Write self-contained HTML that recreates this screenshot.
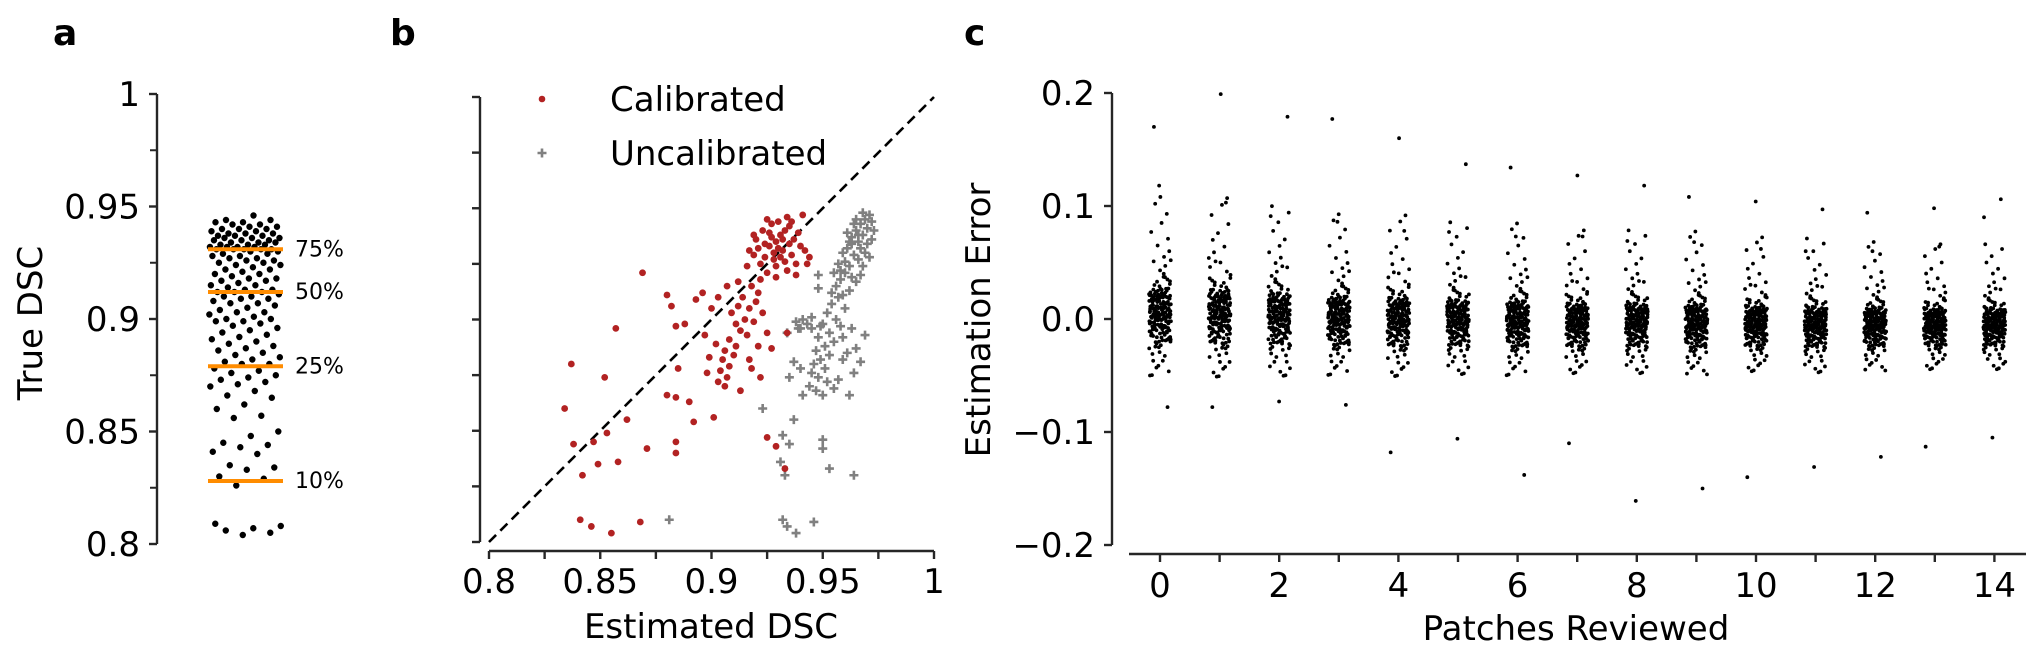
<!DOCTYPE html>
<html><head><meta charset="utf-8">
<style>
html,body{margin:0;padding:0;background:#fff;}
svg{display:block;font-family:"DejaVu Sans","Liberation Sans",sans-serif;}
</style></head>
<body>
<svg id="fig" width="2035" height="664" viewBox="0 0 2035 664" xmlns="http://www.w3.org/2000/svg">
<text x="53" y="45" font-size="36" font-weight="bold">a</text>
<text x="390" y="45" font-size="36" font-weight="bold">b</text>
<text x="964" y="45" font-size="36" font-weight="bold">c</text>
<g id="pa"></g>
<g id="pb"></g>
<g id="pc"></g>
</svg>
<script>
// ---------- Panel a data ----------
const trueDSC = [.946,.944,.944,.943,.943,.942,.942,.941,.941,.940,.940,.940,.939,.939,.938,.938,.938,.937,.937,.937,.936,.936,.936,.935,.935,.935,.934,.934,.934,.933,.933,.933,.932,.932,.932,.932,.931,.931,.931,.931,.931,.930,.930,
.929,.929,.928,.928,.927,.927,.926,.926,.925,.925,.924,.924,.923,.922,.922,.921,.920,.920,.919,.918,.918,.917,.917,.916,.915,.915,.914,.913,.913,.912,.912,.912,
.911,.910,.910,.909,.909,.908,.907,.907,.906,.905,.904,.903,.903,.902,.901,.900,.900,.899,.899,.898,.897,.896,.895,.894,.893,.892,.891,.890,.889,.888,.887,.886,.885,.884,.883,.882,.881,.880,.880,
.878,.877,.876,.875,.874,.873,.872,.871,.870,.868,.866,.865,.862,.860,.857,.856,.850,.848,.845,.844,.843,.841,.840,.835,.834,.833,.830,.829,.826,.808,.807,.806,.805,.804,.809];
const pctLabels = ["75%","50%","25%","10%"];
const pctValues = [0.931,0.912,0.879,0.828];
const aTicks = [1,0.95,0.9,0.85,0.8];
const aTickLabels = ["1","0.95","0.9","0.85","0.8"];
const aMinor = [0.975,0.925,0.875,0.825];

// ---------- Panel b data ----------
const calEst = [.929,.931,.926,.933,.935,.928,.924,.937,.939,.932,.930,.934,.927,.921,.919,.922,.936,.940,.942,.944,.938,.925,.929,.933,.920,.917,.923,.931,.927,.936,.941,.925,.919,.935,.930,.928,.934,.938,.943,.916,.924,.926,.932,.922,.929,
.918,.921,.914,.912,.917,.920,.909,.915,.911,.919,.913,.916,.908,.911,.906,.910,.905,.908,.904,.907,.903,.906,.899,.902,.897,.912,.907,.903,.900,.923,.925,.921,.917,.913,.922,.927,.934,.918,
.869,.837,.834,.857,.852,.880,.882,.893,.896,.884,.888,.885,.880,.884,.890,.892,.901,.862,.853,.847,.838,.871,.884,.884,.858,.849,.842,.898,.841,.846,.855,.868,.929,.933,.925];
const calTrue = [.935,.938,.933,.940,.942,.930,.928,.936,.939,.931,.944,.946,.943,.932,.929,.925,.929,.933,.931,.928,.925,.921,.924,.926,.936,.931,.940,.928,.937,.944,.947,.945,.938,.934,.932,.927,.922,.920,.925,.924,.934,.939,.936,.918,.919,
.915,.912,.910,.906,.905,.908,.903,.900,.898,.899,.895,.893,.891,.888,.886,.884,.882,.879,.877,.874,.872,.870,.883,.889,.893,.917,.915,.910,.905,.903,.894,.888,.882,.868,.874,.887,.894,.878,
.921,.880,.860,.896,.874,.911,.906,.909,.912,.897,.898,.878,.866,.865,.863,.854,.856,.855,.849,.845,.844,.842,.845,.840,.836,.835,.830,.876,.810,.807,.804,.809,.843,.833,.847];
const uncEst = [.965,.967,.963,.969,.971,.966,.961,.968,.970,.964,.960,.958,.962,.966,.969,.972,.973,.967,.963,.959,.957,.955,.965,.968,.964,.961,.970,.972,.966,.962,.960,.963,.968,.971,.958,.956,.965,.962,.959,.967,
.957,.954,.960,.952,.956,.950,.958,.953,.948,.955,.951,.947,.953,.949,.946,.951,.945,.948,.952,.944,.947,.955,.957,.950,.961,.959,.963,.941,.945,.938,.934,.939,.943,.948,.959,.965,.967,.969,.954,.940,
.923,.932,.935,.941,.937,.931,.933,.950,.950,.953,.881,.932,.934,.938,.946,.935,.937,.940,.945,.949,.948,.962,.964,.964];
const uncTrue = [.940,.943,.937,.945,.947,.935,.932,.938,.934,.929,.926,.922,.924,.927,.930,.936,.940,.932,.934,.930,.925,.921,.945,.948,.943,.939,.941,.944,.938,.935,.921,.919,.924,.928,.918,.915,.917,.913,.911,.920,
.910,.907,.905,.903,.900,.898,.897,.894,.892,.890,.888,.886,.884,.882,.880,.878,.876,.874,.872,.870,.868,.869,.873,.866,.885,.892,.896,.900,.901,.899,.894,.896,.898,.914,.882,.887,.881,.893,.912,.878,
.860,.848,.844,.866,.855,.836,.830,.846,.842,.833,.810,.810,.807,.804,.809,.874,.881,.896,.896,.897,.920,.866,.876,.830];
const bTicks = [0.8,0.85,0.9,0.95,1];
const bTickLabels = ["0.8","0.85","0.9","0.95","1"];
const bMinor = [0.825,0.875,0.925,0.975];

// ---------- Panel c data ----------
const patches = [0,1,2,3,4,5,6,7,8,9,10,11,12,13,14];
const clusterMean = [0.005,0.004,0.002,0.0,-0.001,-0.002,-0.003,-0.004,-0.004,-0.005,-0.005,-0.006,-0.006,-0.006,-0.006];
const clusterSpread = [1.0,1.0,0.95,0.9,0.9,0.85,0.85,0.8,0.8,0.8,0.75,0.75,0.72,0.7,0.7];
const coreErrors = [0.000,0.003,-0.003,0.006,-0.006,0.009,-0.009,0.012,-0.012,0.001,-0.001,0.004,-0.004,0.007,-0.007,0.010,-0.010,0.014,-0.013,0.016,
-0.015,0.018,-0.016,0.002,-0.002,0.005,-0.005,0.008,-0.008,0.011,-0.011,0.013,-0.014,0.020,-0.017,0.022,-0.018,0.000,0.003,-0.003,
0.006,-0.006,0.015,-0.012,0.017,-0.009,0.024,-0.019,0.026,-0.020,0.001,-0.001,0.004,-0.004,0.028,-0.014,0.030,-0.016,0.019,-0.010,
0.009,-0.007,0.012,-0.005,0.032,-0.021,0.021,-0.002,0.035,-0.022,0.007,0.010,-0.011,0.014,-0.008,0.002,0.005,-0.003,0.016,-0.013,
0.038,0.042,-0.025,0.046,-0.030,0.050,0.055,-0.036,0.060,-0.042,0.066,0.072,-0.048,0.080,0.088,-0.055,0.097,0.103,-0.024,0.047];
const outlierHigh = [0.170,0.199,0.179,0.177,0.160,0.137,0.134,0.127,0.118,0.108,0.104,0.097,0.094,0.098,0.106];
const outlierLow = [-0.078,-0.078,-0.073,-0.076,-0.118,-0.106,-0.138,-0.110,-0.161,-0.150,-0.140,-0.131,-0.122,-0.113,-0.105];
const outlierHigh2 = [0.118,0.103,0.091,0.086,0.078,0.077,0.073,0.073,0.069,0.068,0.062,0.060,0.060,0.064,0.090];
const cYTicks = [0.2,0.1,0.0,-0.1,-0.2];
const cYTickLabels = ["0.2","0.1","0.0","\u22120.1","\u22120.2"];
const cXTicks = [0,2,4,6,8,10,12,14];

const NS="http://www.w3.org/2000/svg";
function mk(parent,tag,attrs,text){const e=document.createElementNS(NS,tag);for(const k in attrs)e.setAttribute(k,attrs[k]);if(text!==undefined)e.textContent=text;parent.appendChild(e);return e;}
const AX="#262626";
function jit(i){return ((i*0.6180339887)%1)*2-1;}

// ===== Panel a =====
(function(){
 const g=document.getElementById('pa');
 const y=v=>94+(1-v)/0.2*450;
 const axX=157, cx=245;
 let ln=mk(g,'line',{x1:axX,y1:y(1),x2:axX,y2:y(0.8),stroke:AX,'stroke-width':2.4});
 
 
 aTicks.forEach((v,i)=>{
  let t=mk(g,'line',{x1:axX-8,y1:y(v),x2:axX,y2:y(v),stroke:AX,'stroke-width':2.4});
  
  
  let l=mk(g,'text',{x:axX-17,y:y(v)+12,'font-size':34,'text-anchor':'end'},aTickLabels[i]);
  
  
 });
 aMinor.forEach(v=>{
  let t=mk(g,'line',{x1:axX-7,y1:y(v),x2:axX,y2:y(v),stroke:AX,'stroke-width':2});
  
  
 });
 let tt=mk(g,'text',{x:0,y:0,'font-size':34,'text-anchor':'middle',transform:'translate(42,323) rotate(-90)'},'True DSC');
 
 
 trueDSC.forEach((v,i)=>{
  let c=mk(g,'circle',{cx:cx+jit(i+1)*36,cy:y(v),r:3.2,fill:'#000'});
  
  
 });
 pctValues.forEach((v,i)=>{
  let l=mk(g,'line',{x1:208,y1:y(v),x2:283,y2:y(v),stroke:'#ff8c00','stroke-width':4});
  
  
  let t=mk(g,'text',{x:295,y:y(v)+7,'font-size':22},pctLabels[i]);
  
  
 });
})();

// ===== Panel b =====
(function(){
 const g=document.getElementById('pb');
 const x=v=>489+(v-0.8)/0.2*445;
 const y=v=>542-(v-0.8)/0.2*445;
 const axX=480, axY=551;
 let a1=mk(g,'line',{x1:axX,y1:y(1),x2:axX,y2:y(0.8),stroke:AX,'stroke-width':2.4});
 
 
 let a2=mk(g,'line',{x1:x(0.8),y1:axY,x2:x(1),y2:axY,stroke:AX,'stroke-width':2.4});
 
 
 bTicks.concat(bMinor).forEach(v=>{
  let t=mk(g,'line',{x1:axX-8,y1:y(v),x2:axX,y2:y(v),stroke:AX,'stroke-width':2.4});
  
  
  let u=mk(g,'line',{x1:x(v),y1:axY,x2:x(v),y2:axY+8,stroke:AX,'stroke-width':2.4});
  
  
 });
 bTicks.forEach((v,i)=>{
  let l=mk(g,'text',{x:x(v),y:593,'font-size':34,'text-anchor':'middle'},bTickLabels[i]);
  
  
 });
 let xt=mk(g,'text',{x:711,y:638,'font-size':34,'text-anchor':'middle'},'Estimated DSC');
 
 
 let d=mk(g,'line',{x1:x(0.8),y1:y(0.8),x2:x(1),y2:y(1),stroke:'#000','stroke-width':2.6,'stroke-dasharray':'10,6'});
 
 
 function plus(px,py,s){
  return mk(g,'path',{d:`M${px-s} ${py}H${px+s}M${px} ${py-s}V${py+s}`,stroke:'#808080','stroke-width':2.6,fill:'none'});
 }
 uncEst.forEach((v,i)=>{
  let p=plus(x(v),y(uncTrue[i]),4.5);
  
  
 });
 calEst.forEach((v,i)=>{
  let c=mk(g,'circle',{cx:x(v),cy:y(calTrue[i]),r:3.4,fill:'#b22222'});
  
  
 });
 let lg=mk(g,'g',{});
 
 
 let m1=mk(lg,'circle',{cx:542,cy:99,r:3.3,fill:'#b22222'});
 
 
 let t1=mk(lg,'text',{x:610,y:111,'font-size':34},'Calibrated');
 
 
 let m2=mk(lg,'path',{d:'M537.5 153H546.5M542 148.5V157.5',stroke:'#808080','stroke-width':2.6});
 
 
 let t2=mk(lg,'text',{x:610,y:165,'font-size':34},'Uncalibrated');
 
 
})();

// ===== Panel c =====
(function(){
 const g=document.getElementById('pc');
 const x=v=>1160+v*59.6;
 const y=v=>319-v/0.1*113;
 const axX=1112, axY=554;
 let a1=mk(g,'line',{x1:axX,y1:y(0.2),x2:axX,y2:y(-0.2),stroke:AX,'stroke-width':2.4});
 
 
 let a2=mk(g,'line',{x1:1129,y1:axY,x2:2026,y2:axY,stroke:AX,'stroke-width':2.4});
 
 
 cYTicks.forEach((v,i)=>{
  let t=mk(g,'line',{x1:axX-8,y1:y(v),x2:axX,y2:y(v),stroke:AX,'stroke-width':2.4});
  
  
  let l=mk(g,'text',{x:axX-17,y:y(v)+12,'font-size':34,'text-anchor':'end'},cYTickLabels[i]);
  
  
 });
 patches.forEach(p=>{
  let t=mk(g,'line',{x1:x(p),y1:axY,x2:x(p),y2:axY+8,stroke:AX,'stroke-width':2.4});
  
  
 });
 cXTicks.forEach(p=>{
  let l=mk(g,'text',{x:x(p),y:597,'font-size':34,'text-anchor':'middle'},String(p));
  
  
 });
 let xt=mk(g,'text',{x:1576,y:640,'font-size':34,'text-anchor':'middle'},'Patches Reviewed');
 
 
 let yt=mk(g,'text',{x:0,y:0,'font-size':34,'text-anchor':'middle',transform:'translate(990,320) rotate(-90)'},'Estimation Error');
 
 
 patches.forEach((p,k)=>{
  const pts=[];
  coreErrors.forEach((e,i)=>{
   pts.push(clusterMean[k]+e*clusterSpread[k]);
   const f=i<80?0.9:0.55;
   pts.push(clusterMean[k]-e*clusterSpread[k]*f+0.002);
  });
  pts.push(outlierHigh[k],outlierLow[k],outlierHigh2[k]);
  pts.forEach((v,i)=>{
   let c=mk(g,'circle',{cx:x(p)+jit(i+k*7+1)*11,cy:y(v),r:1.9,fill:'#000'});
   
   
  });
 });
})();
</script>
</body></html>
